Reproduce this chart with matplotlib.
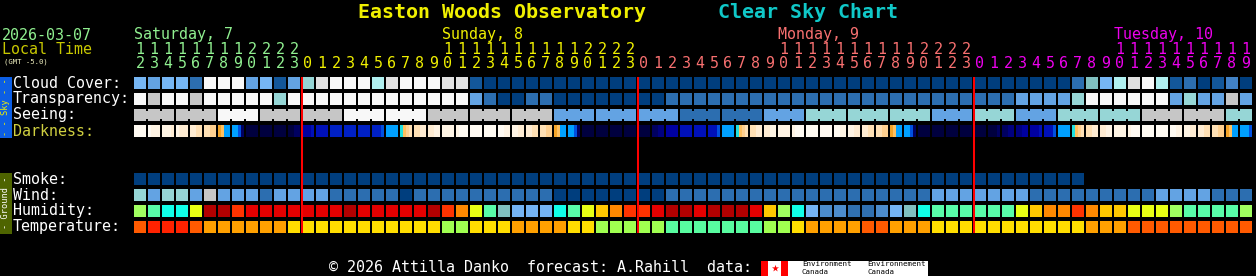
import numpy as np
import matplotlib.pyplot as plt

W, H = 1256, 276

# one cell per hour, first cell = Saturday 12:00 local time
first_hour = 12
n_hours = 80
days = ["Saturday, 7", "Sunday, 8", "Monday, 9", "Tuesday, 10"]
day_colors = ["#90f090", "#f0f000", "#f87070", "#ee00ee"]

# cloud cover in tenths (0 = clear, 10 = overcast)
cloud = [5, 4, 5, 5, 2, 10, 10, 10, 4, 5, 1, 4, 7, 9, 10, 10, 10, 8, 9, 10,
         10, 10, 9, 9, 1, 0, 0, 0, 0, 0, 0, 0, 0, 0, 0, 0, 0, 0, 0, 0,
         0, 0, 0, 0, 0, 0, 0, 0, 0, 0, 0, 0, 0, 0, 0, 0, 0, 0, 0, 0,
         0, 0, 0, 0, 0, 0, 0, 2, 6, 5, 8, 9, 10, 8, 1, 2, 0, 1, 3, 0]
cloud_colors = ["#003e7e", "#13579a", "#2c6eb0", "#4282c6", "#63a3e3", "#76b6f4",
                "#80c0c0", "#96d6d6", "#b0f0f0", "#e0e0e0", "#f8f8f8"]

# transparency: 0 transparent .. 4 poor, 5 too cloudy
transparency = [5, 4, 5, 5, 4, 5, 5, 5, 5, 5, 3, 5, 5, 5, 5, 5, 5, 5, 5, 5,
                5, 5, 5, 5, 2, 1, 0, 0, 1, 1, 0, 0, 0, 0, 0, 0, 0, 0, 1, 1,
                1, 1, 1, 1, 1, 1, 1, 1, 1, 1, 1, 1, 1, 1, 1, 1, 1, 1, 1, 1,
                1, 1, 1, 2, 2, 2, 2, 3, 5, 5, 5, 5, 5, 5, 2, 3, 2, 2, 4, 2]
sky_colors = ["#003e7e", "#2c6eb0", "#63a3e3", "#96d6d6", "#c6c6c6", "#f8f8f8"]

# seeing, one value per 3 hours (same scale as transparency)
seeing = [4, 4, 5, 4, 4, 5, 5, 4, 4, 4, 2, 2, 2, 1, 1, 2, 3, 3, 3, 2,
          3, 2, 3, 3, 4, 4, 3]

# darkness, four quarter-hour codes per hour (index into dark_colors)
darkness = ["0000", "0111", "1112", "1222", "2233", "3344", "6588", "889f",
            "gggg", "gggg", "gggg", "ggff", "dddc", "cccc", "bbbb", "bbbb",
            "bbbb", "bbb9", "8888", "7543", "3322", "2211", "1111", "1000",
            "0000", "0000", "0011", "1122", "2233", "3344", "6588", "889f",
            "gggg", "gggg", "gggg", "gggg", "gggg", "ffee", "dddd", "cccc",
            "cccc", "ccc9", "8888", "7543", "3322", "2211", "1111", "1000",
            "0000", "0000", "0011", "1122", "2233", "3344", "6588", "889f",
            "gggg", "gggg", "gggg", "gggg", "gggg", "gggf", "ffee", "eedd",
            "dddc", "ccc9", "8888", "7543", "3322", "2211", "1111", "1000",
            "0000", "0000", "0011", "1122", "2233", "3344", "6588", "8889"]
dark_colors = {"0": "#fffaf2", "1": "#fff4e4", "2": "#ffecd2", "3": "#ffe0b4",
               "4": "#ffd090", "5": "#ffc060", "6": "#f4a428", "7": "#20e0e0",
               "8": "#00a0ff", "9": "#0050e0", "a": "#0030d0", "b": "#0020c4",
               "c": "#0010b8", "d": "#0000a0", "e": "#000080", "f": "#000060",
               "g": "#00003e"}

# smoke (0 = none), forecast ends early
smoke = [0, 0, 0, 0, 0, 0, 0, 0, 0, 0, 0, 0, 0, 0, 0, 0, 0, 0, 0, 0,
         0, 0, 0, 0, 0, 0, 0, 0, 0, 0, 0, 0, 0, 0, 0, 0, 0, 0, 0, 0,
         0, 0, 0, 0, 0, 0, 0, 0, 0, 0, 0, 0, 0, 0, 0, 0, 0, 0, 0, 0,
         0, 0, 0, 0, 0, 0, 0, 0]

# wind: 0 calm .. 4 strong (sky_colors scale)
wind = [3, 2, 3, 3, 2, 4, 2, 2, 2, 1, 2, 2, 2, 2, 1, 1, 1, 1, 1, 0,
        1, 1, 1, 1, 1, 1, 1, 1, 1, 1, 0, 0, 0, 0, 0, 0, 0, 0, 1, 1,
        1, 1, 1, 1, 1, 1, 1, 1, 1, 1, 1, 1, 1, 1, 1, 1, 1, 2, 2, 2,
        2, 2, 2, 2, 1, 1, 1, 1, 1, 1, 1, 1, 1, 2, 2, 2, 2, 1, 1, 1]

# humidity class (0 = dry .. 12 = saturated)
humidity = [6, 5, 4, 4, 7, 12, 12, 10, 11, 11, 11, 11, 11, 11, 11, 12, 11, 11, 11, 11,
            11, 12, 10, 9, 7, 5, 3, 2, 2, 2, 4, 5, 7, 8, 9, 10, 10, 11, 12, 12,
            11, 12, 12, 12, 11, 8, 6, 4, 2, 1, 1, 0, 0, 1, 2, 3, 4, 5, 5, 5,
            5, 5, 5, 7, 8, 9, 9, 10, 9, 8, 8, 7, 7, 7, 6, 5, 5, 5, 5, 6]
hum_colors = ["#3070b0", "#4c8ccc", "#74b4f4", "#80c0c0", "#10ffe8", "#58fca8",
              "#a0ff60", "#e8ff14", "#ffc800", "#ff8800", "#ff3300", "#e40000", "#b20000"]

# temperature class (0 = coldest .. 5 = warmest)
temperature = [4, 5, 5, 5, 4, 3, 3, 3, 3, 3, 3, 2, 2, 2, 2, 2, 2, 2, 2, 2,
               2, 2, 1, 1, 2, 2, 2, 3, 3, 3, 3, 2, 2, 1, 1, 1, 1, 1, 0, 0,
               0, 0, 0, 0, 0, 1, 1, 2, 3, 3, 3, 3, 4, 4, 3, 3, 3, 2, 2, 2,
               2, 2, 2, 2, 2, 2, 2, 2, 3, 3, 3, 4, 4, 4, 4, 4, 4, 4, 4, 4]
temp_colors = ["#58fca0", "#a0ff50", "#ffdd00", "#ffa000", "#ff5a00", "#ff2200"]

row_names = ["Cloud Cover:", "Transparency:", "Seeing:", "Darkness:",
             "Smoke:", "Wind:", "Humidity:", "Temperature:"]
row_tops = [77, 93, 109, 125, 173, 189, 205, 221]

plt.rcParams['font.family'] = 'DejaVu Sans Mono'
fig = plt.figure(figsize=(W / 100, H / 100), dpi=100, facecolor='black')
ax = fig.add_axes([0, 0, 1, 1])
ax.set_facecolor('black')
ax.set_xlim(0, W)
ax.set_ylim(H, 0)
ax.axis('off')

X0, PITCH, CELL = 134, 14, 12
xs = X0 + PITCH * np.arange(n_hours)
hours = (first_hour + np.arange(n_hours)) % 24
day_idx = (first_hour + np.arange(n_hours)) // 24


def cell_row(vals, palette, top):
    cols = [palette[v] for v in vals]
    ax.bar(xs[:len(vals)], CELL, bottom=top, width=CELL, color=cols,
           align='edge', linewidth=0, antialiased=False)


cell_row(cloud, cloud_colors, row_tops[0])
cell_row(transparency, sky_colors, row_tops[1])

# seeing: 3-hour blocks joined by a narrow bridge
see_cells = [seeing[i // 3] for i in range(n_hours)]
cell_row(see_cells, sky_colors, row_tops[2])
for i in range(1, n_hours):
    if i % 3 != 0:
        ax.bar(xs[i] - 2, CELL - 4, bottom=row_tops[2] + 2, width=2,
               color=sky_colors[see_cells[i]], align='edge', linewidth=0,
               antialiased=False)

# darkness with quarter-hour shading inside each cell
for i, code in enumerate(darkness):
    ax.bar(xs[i] + 3 * np.arange(4), CELL, bottom=row_tops[3], width=3,
           color=[dark_colors[c] for c in code], align='edge', linewidth=0,
           antialiased=False)

cell_row(smoke, sky_colors, row_tops[4])
cell_row(wind, sky_colors, row_tops[5])
cell_row(humidity, hum_colors, row_tops[6])
cell_row(temperature, temp_colors, row_tops[7])

# midnight lines
for i in np.where(hours == 0)[0]:
    ax.vlines(xs[i], 77, 233, color='#ff0000', linewidth=1.45)

# row labels
for name, top in zip(row_names, row_tops):
    col = '#d0d040' if name == 'Darkness:' else 'white'
    ax.text(13, top + 6, name, color=col, fontsize=10.8, va='center', ha='left')

# side bars
ax.bar(0, 61, bottom=77, width=12, color='#0c5ee4', align='edge', linewidth=0)
ax.text(6, 107, "- - Sky - -", rotation=90, color='#f0f000', fontsize=6.2,
        ha='center', va='center')
ax.bar(0, 61, bottom=173, width=12, color='#4e6400', align='edge', linewidth=0)
ax.text(6, 203, "- Ground -", rotation=90, color='white', fontsize=6.2,
        ha='center', va='center')

# header
ax.text(358, 12, "Easton Woods Observatory", color='#f0f000', fontsize=14.4,
        fontweight='bold', va='center', ha='left')
ax.text(718, 12, "Clear Sky Chart", color='#10c8c8', fontsize=14.4,
        fontweight='bold', va='center', ha='left')
ax.text(2, 35, "2026-03-07", color='#90f090', fontsize=10.8, va='center')
ax.text(2, 50, "Local Time", color='#c8c800', fontsize=10.8, va='center')
ax.text(4, 62, "(GMT -5.0)", color='#f0f0c0', fontsize=5.2, va='center')

for d in range(len(days)):
    cells = np.where(day_idx == d)[0]
    start = cells[np.argmax(hours[cells] >= 10)] if hours[cells[0]] < 10 else cells[0]
    ax.text(xs[start], 35, days[d], color=day_colors[d], fontsize=10.8,
            va='center', ha='left')

for i in range(n_hours):
    col = day_colors[day_idx[i]]
    if hours[i] >= 10:
        ax.text(xs[i] + 6, 50, str(hours[i] // 10), color=col, fontsize=10.8,
                va='center', ha='center')
    ax.text(xs[i] + 6, 64, str(hours[i] % 10), color=col, fontsize=10.8,
            va='center', ha='center')

# footer
ax.text(329, 268, "\u00a9 2026 Attilla Danko  forecast: A.Rahill  data:",
        color='white', fontsize=10.8, va='center', ha='left')
ax.bar(761, 15, bottom=261, width=27, color='white', align='edge', linewidth=0)
ax.bar([761, 781], 15, bottom=261, width=7, color='#ff0000', align='edge', linewidth=0)
ax.scatter([774.5], [268], marker='*', s=28, color='#ff0000', linewidths=0)
ax.bar(788, 15, bottom=261, width=140, color='white', align='edge', linewidth=0)
for x, word in [(802, "Environment"), (867, "Environnement")]:
    ax.text(x, 264.5, word, color='black', fontsize=5.4, va='center', ha='left')
    ax.text(x, 271.5, "Canada", color='black', fontsize=5.4, va='center', ha='left')

fig.savefig('out.png', dpi=100, facecolor='black')
